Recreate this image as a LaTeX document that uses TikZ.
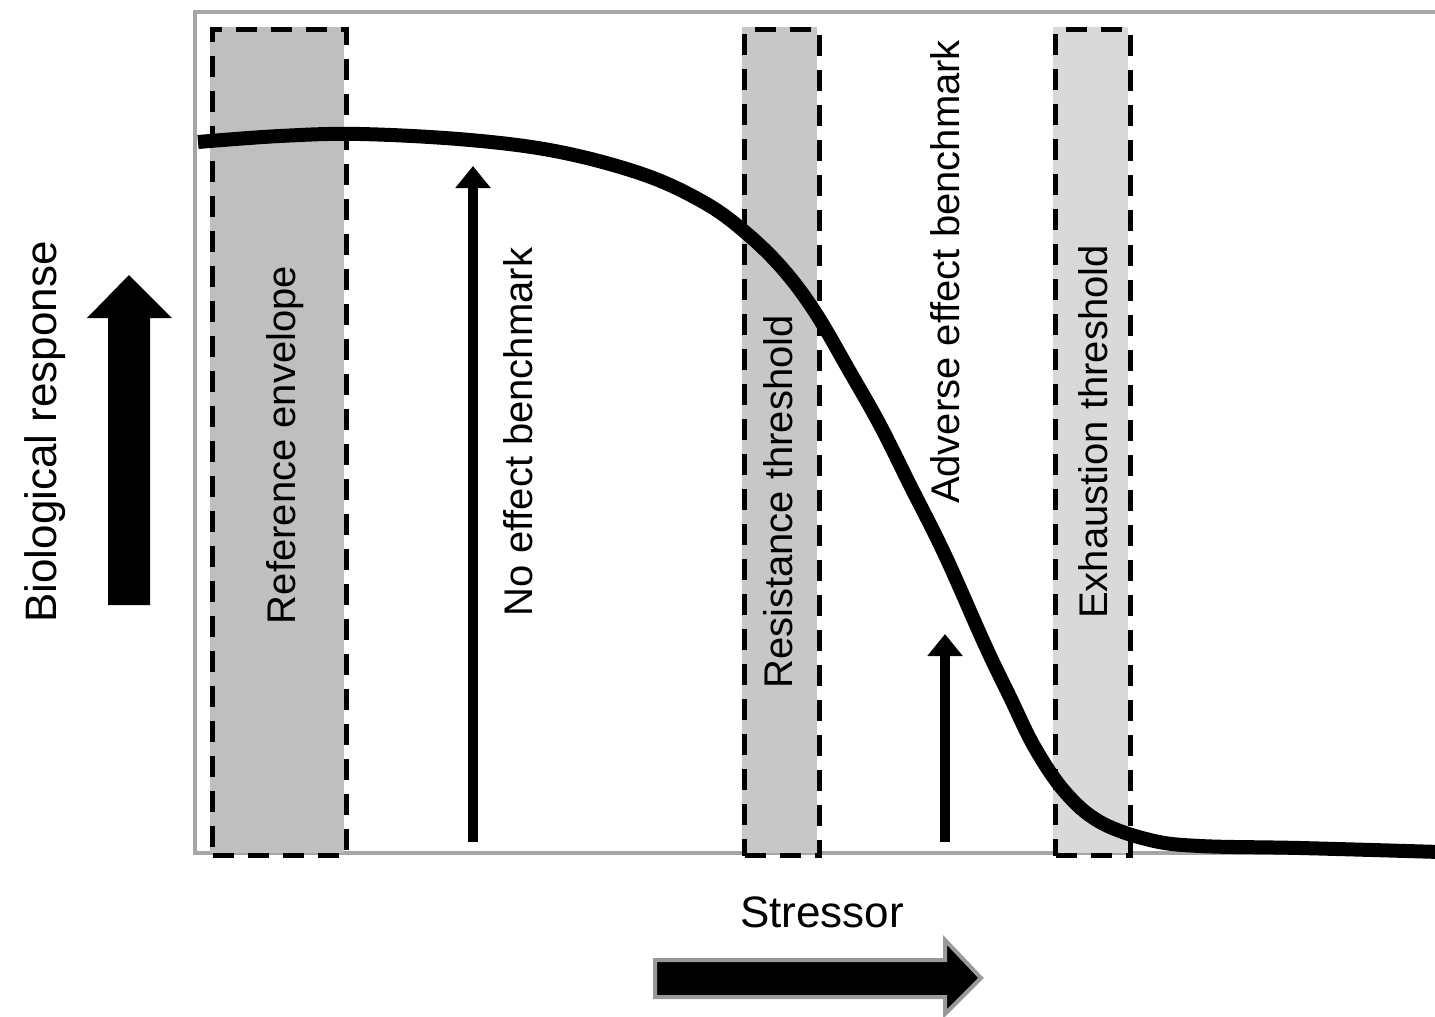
\documentclass[tikz,border=0pt]{standalone}
\usepackage{fontspec}
\setmainfont{Liberation Sans}
\usetikzlibrary{arrows.meta}
\begin{document}
\begin{tikzpicture}[x=0.5pt,y=-0.5pt,
  band/.style={draw=black,line width=2.5pt,dash pattern=on 10.5pt off 7pt,inner sep=0pt,anchor=north west},
  lbl/.style={rotate=90,font=\fontsize{20pt}{24pt}\selectfont,inner sep=0pt},
  big/.style={font=\fontsize{22pt}{26pt}\selectfont,inner sep=0pt},
  benchar/.style={line width=5pt,-{Triangle[width=17pt,length=11pt]}},
]
\useasboundingbox (0,0) rectangle (1435,1017);
% frame
\draw[draw=black!35,line width=1.6pt] (1440,12) -- (195,12) -- (195,853) -- (1440,853);
% bands
\path[fill=black!25] (210,27) rectangle (344,853);
\path[fill=black!22] (742,27) rectangle (817,853);
\path[fill=black!15] (1053,27) rectangle (1128,853);
\node[band,minimum width=67pt,minimum height=413pt] (refenv) at (210,27) {};
\node[band,minimum width=37.5pt,minimum height=413pt] (resist) at (742,27) {};
\node[band,minimum width=37.5pt,minimum height=413pt] (exhaust) at (1053,27) {};
% labels
\node[lbl] (lref) at (285,445) {Reference envelope};
\node[lbl] (lnoe) at (518,432) {No effect benchmark};
\node[lbl] (lres) at (778,502) {Resistance threshold};
\node[lbl] (ladv) at (945,272) {Adverse effect benchmark};
\node[lbl] (lexh) at (1093,432) {Exhaustion threshold};
% benchmark arrows
\coordinate (noeB) at (473,842);
\coordinate (noeT) at (473,166);
\coordinate (advB) at (945,842);
\coordinate (advT) at (945,634);
\draw[benchar] (noeB) -- (noeT);
\draw[benchar] (advB) -- (advT);
% curve
\draw[line width=7pt,line cap=butt] plot[smooth,tension=0.6] coordinates {
 (198,142) (280,136) (360,134) (470,140) (560,152) (645,175)
 (705,203) (745,232) (782,268) (815,312) (850,372) (880,425) (910,485) (945,555)
 (985,645) (1010,697) (1035,748) (1065,792) (1100,822) (1150,840)
 (1200,846) (1300,848) (1440,852)};
% axis labels
\node[big,rotate=90] (ylab) at (45,432) {Biological response};
\node[big] (xlab) at (822,912) {Stressor};
% big up arrow
\path[fill=black] (108,605) -- (150,605) -- (150,318) -- (172,318) -- (129,275) -- (87,318) -- (108,318) -- cycle;
% stressor arrow
\path[fill=black,draw=black!40,line width=2pt,line join=miter] (655,960) -- (945,960) -- (945,940) -- (981,978) -- (945,1014) -- (945,997) -- (655,997) -- cycle;
\end{tikzpicture}
\end{document}
